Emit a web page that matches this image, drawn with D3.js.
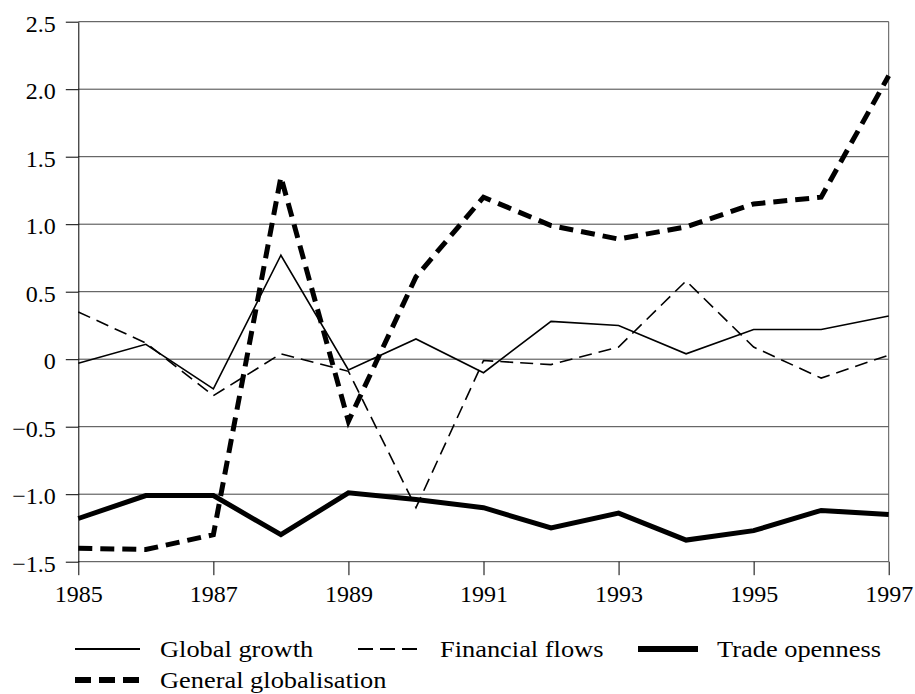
<!DOCTYPE html>
<html>
<head>
<meta charset="utf-8">
<script src="https://cdn.jsdelivr.net/npm/d3@7"></script>
<style>
  body { margin: 0; background: #fff; }
  svg text { font-family: "Liberation Serif", "Times New Roman", serif; fill: #000; }
</style>
</head>
<body>
<div id="chart"></div>
<script>
// data
const years = [1985, 1986, 1987, 1988, 1989, 1990, 1991, 1992, 1993, 1994, 1995, 1996, 1997];
const globalGrowth   = [-0.03, 0.11, -0.22, 0.77, -0.08, 0.15, -0.10, 0.28, 0.25, 0.04, 0.22, 0.22, 0.32];
const financialFlows = [0.35, 0.12, -0.27, 0.04, -0.09, -1.10, -0.01, -0.04, 0.09, 0.58, 0.09, -0.14, 0.03];
const tradeOpenness  = [-1.18, -1.01, -1.01, -1.30, -0.99, -1.04, -1.10, -1.25, -1.14, -1.34, -1.27, -1.12, -1.15];
const generalGlob    = [-1.40, -1.41, -1.30, 1.35, -0.46, 0.61, 1.20, 0.99, 0.89, 0.98, 1.15, 1.20, 2.10];
const yTicks = [-1.5, -1.0, -0.5, 0, 0.5, 1.0, 1.5, 2.0, 2.5];
const xTicks = [1985, 1987, 1989, 1991, 1993, 1995, 1997];

const width = 915, height = 694;
const plotLeft = 78.3, plotRight = 888.7, plotTop = 21.7, plotBottom = 561.7;

const svg = d3.select("#chart").append("svg")
    .attr("width", width)
    .attr("height", height);

let x = d3.scaleLinear().domain([1985, 1997]).range([plotLeft, plotRight]);
let y = d3.scaleLinear().domain([-1.5, 2.5]).range([plotBottom, plotTop]);

// gridlines
svg.append("g")
    .selectAll("line")
    .data(yTicks)
    .enter().append("line")
    .attr("x1", plotLeft).attr("x2", plotRight)
    .attr("y1", d => y(d)).attr("y2", d => y(d))
    .attr("stroke", "#444")
    .attr("stroke-width", 1);

// right border
svg.append("line")
    .attr("x1", plotRight).attr("x2", plotRight)
    .attr("y1", plotTop).attr("y2", plotBottom)
    .attr("stroke", "#555");

let fmt = d => d === 0 ? "0" : d3.format(".1f")(d).replace("-", "\u2013");

let yAxis = svg.append("g")
    .attr("transform", `translate(${plotLeft},0)`)
    .call(d3.axisLeft(y).tickValues(yTicks).tickFormat(fmt).tickSize(12.5).tickSizeOuter(0).tickPadding(10));
yAxis.select(".domain").attr("stroke", "#000");
yAxis.selectAll(".tick line").attr("stroke", "#000");
yAxis.selectAll("text").style("font-size", "24px").attr("dy", "0.4em");

let xAxis = svg.append("g")
    .attr("transform", `translate(0,${plotBottom})`)
    .call(d3.axisBottom(x).tickValues(xTicks).tickFormat(d3.format("d")).tickSize(13.5).tickSizeOuter(0).tickPadding(10));
xAxis.select(".domain").remove();
xAxis.selectAll(".tick line").attr("stroke", "#000");
xAxis.selectAll("text").style("font-size", "24px");

const series = [
    {name: "Global growth", values: globalGrowth, width: 1.6, dash: null},
    {name: "Financial flows", values: financialFlows, width: 1.6, dash: "13,7"},
    {name: "Trade openness", values: tradeOpenness, width: 5, dash: null},
    {name: "General globalisation", values: generalGlob, width: 5, dash: "14,8"}
];

let line = d3.line()
    .x((d, i) => x(years[i]))
    .y(d => y(d));

series.forEach(function(s) {
    svg.append("path")
        .datum(s.values)
        .attr("fill", "none")
        .attr("stroke", "#000")
        .attr("stroke-width", s.width)
        .attr("stroke-dasharray", s.dash)
        .attr("stroke-linejoin", "miter")
        .attr("d", line);
});

// legend
const legendPos = [
    {x1: 75, x2: 140, tx: 160, y: 649},
    {x1: 358, x2: 420, tx: 440, y: 649},
    {x1: 638, x2: 698, tx: 717, y: 649},
    {x1: 75, x2: 140, tx: 160, y: 680}
];

series.forEach(function(s, i) {
    let p = legendPos[i];
    svg.append("line")
        .attr("x1", p.x1).attr("x2", p.x2)
        .attr("y1", p.y).attr("y2", p.y)
        .attr("stroke", "#000")
        .attr("stroke-width", s.width === 5 ? 6 : 1.8)
        .attr("stroke-dasharray", s.dash ? (s.width === 5 ? "16,8" : "15,7") : null);
    svg.append("text")
        .attr("transform", `translate(${p.tx},${p.y + 8}) scale(1.1,1)`)
        .style("font-size", "24px")
        .text(s.name);
});
</script>
</body>
</html>
